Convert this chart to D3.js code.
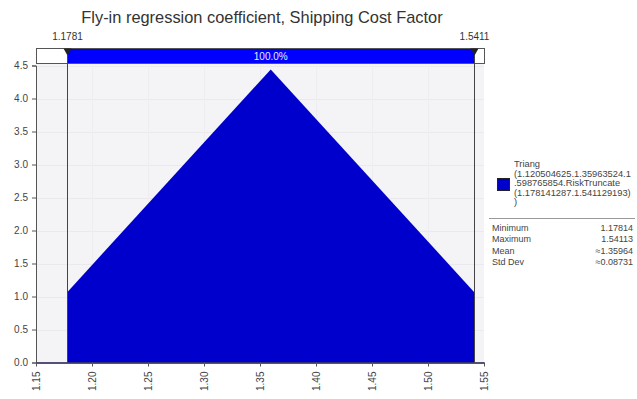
<!DOCTYPE html>
<html><head><meta charset="utf-8">
<script src="https://cdn.jsdelivr.net/npm/d3@7"></script>
<style>
html,body{margin:0;padding:0;background:#fff;}
svg{display:block;}
text{font-family:"Liberation Sans",Arial,sans-serif;}
</style></head>
<body>
<script>
// ---- data ----
const title = "Fly-in regression coefficient, Shipping Cost Factor";
const densityX = [1.1781, 1.3596, 1.5411];
const densityY = [1.07, 4.44, 1.07];
const xTicks = [1.15, 1.20, 1.25, 1.30, 1.35, 1.40, 1.45, 1.50, 1.55];
const yTicks = [0.0, 0.5, 1.0, 1.5, 2.0, 2.5, 3.0, 3.5, 4.0, 4.5];
const markerValues = [1.1781, 1.5411];
const markerLabels = ["1.1781", "1.5411"];
const bandLabel = "100.0%";
const legendLines = ["Triang", "(1.120504625.1.35963524.1", ".598765854.RiskTruncate", "(1.178141287.1.541129193)", ")"];
const statNames = ["Minimum", "Maximum", "Mean", "Std Dev"];
const statValues = ["1.17814", "1.54113", "\u22481.35964", "\u22480.08731"];

// ---- layout ----
const W = 637, H = 399;
const svg = d3.select("body").append("svg").attr("width", W).attr("height", H);
const x = d3.scaleLinear().domain([1.15, 1.55]).range([36, 484]);
const y = d3.scaleLinear().domain([0, 4.5]).range([362.5, 65.5]);

// plot background
svg.append("rect").attr("x", x(1.15)).attr("y", y(4.5) - 2).attr("width", x(1.55) - x(1.15)).attr("height", y(0) - y(4.5) + 2)
  .attr("fill", "#f4f4f7");
// faint grid
svg.append("g").selectAll("line").data(yTicks.slice(1)).join("line")
  .attr("x1", x(1.15)).attr("x2", x(1.55)).attr("y1", d => Math.round(y(d)) + 0.5).attr("y2", d => Math.round(y(d)) + 0.5)
  .attr("stroke", "#eaeaee").attr("stroke-width", 1);
svg.append("g").selectAll("line").data(xTicks.slice(1, -1)).join("line")
  .attr("y1", y(4.5)).attr("y2", y(0)).attr("x1", d => Math.round(x(d)) + 0.5).attr("x2", d => Math.round(x(d)) + 0.5)
  .attr("stroke", "#eeeef2").attr("stroke-width", 1);

// density area
const pts = densityX.map((d, i) => [d, densityY[i]]);
const area = d3.area().x(d => x(d[0])).y0(y(0)).y1(d => y(d[1]));
svg.append("path").datum(pts).attr("d", area).attr("fill", "#0000cc");

// axes
const yAxis = d3.axisLeft(y).tickValues(yTicks).tickFormat(d3.format(".1f")).tickSize(4).tickPadding(4);
const gy = svg.append("g").attr("transform", `translate(${x(1.15)},0)`).call(yAxis);
gy.select(".domain").attr("stroke", "#555");
gy.selectAll(".tick line").attr("stroke", "#555");
gy.selectAll(".tick text").attr("fill", "#444").style("font-size", "10px");

const xAxis = d3.axisBottom(x).tickValues(xTicks).tickFormat(d3.format(".2f")).tickSize(4).tickSizeOuter(0);
const gx = svg.append("g").attr("transform", `translate(0,${y(0)})`).call(xAxis);
gx.select(".domain").attr("stroke", "#1a1a4a").attr("stroke-width", 1.5);
gx.selectAll(".tick line").attr("stroke", "#555");
gx.selectAll(".tick text").attr("fill", "#444").style("font-size", "10px")
  .attr("transform", "rotate(-90)").attr("text-anchor", "end").attr("x", -9).attr("y", 0).attr("dy", "0.35em");

// top band
const bandY = 48.5, bandH = 15;
svg.append("rect").attr("x", x(1.15) + 0.5).attr("y", bandY).attr("width", x(1.55) - x(1.15)).attr("height", bandH)
  .attr("fill", "#fff").attr("stroke", "#555");
svg.append("rect").attr("x", x(markerValues[0])).attr("y", bandY + 0.5).attr("width", x(markerValues[1]) - x(markerValues[0])).attr("height", bandH - 1)
  .attr("fill", "#0000ff");
svg.append("text").attr("x", (x(markerValues[0]) + x(markerValues[1])) / 2).attr("y", bandY + bandH / 2 + 0.5).attr("dy", "0.35em")
  .attr("text-anchor", "middle").attr("fill", "#e8e8ff").style("font-size", "10px").text(bandLabel);

// marker lines
markerValues.forEach((v, i) => {
  const mx = Math.round(x(v)) + 0.5;
  svg.append("line").attr("x1", mx).attr("x2", mx).attr("y1", bandY).attr("y2", y(0)).attr("stroke", "#444").attr("stroke-width", 1);
  svg.append("path").attr("d", `M${mx - 4},${bandY} L${mx + 4},${bandY} L${mx},${bandY + 7} Z`).attr("fill", "#222");
  svg.append("text").attr("x", mx).attr("y", 40).attr("text-anchor", "middle").attr("fill", "#333").style("font-size", "10px").text(markerLabels[i]);
});

// title
svg.append("text").attr("x", 262).attr("y", 23).attr("text-anchor", "middle").attr("fill", "#333")
  .style("font-size", "16.4px").text(title);

// legend
svg.append("rect").attr("x", 497.5).attr("y", 178.5).attr("width", 12).attr("height", 12).attr("fill", "#0000cc").attr("stroke", "#222");
svg.append("g").selectAll("text").data(legendLines).join("text")
  .attr("x", 514).attr("y", (d, i) => 167 + i * 9.5).attr("fill", "#444").style("font-size", "9.3px").text(d => d);
svg.append("line").attr("x1", 489).attr("x2", 635).attr("y1", 218.5).attr("y2", 218.5).attr("stroke", "#999");
svg.append("g").selectAll("text").data(statNames).join("text")
  .attr("x", 492).attr("y", (d, i) => 231 + i * 11.3).attr("fill", "#444").style("font-size", "9px").text(d => d);
svg.append("g").selectAll("text").data(statValues).join("text")
  .attr("x", 633).attr("y", (d, i) => 231 + i * 11.3).attr("text-anchor", "end").attr("fill", "#444").style("font-size", "9px").text(d => d);
</script>
</body></html>
